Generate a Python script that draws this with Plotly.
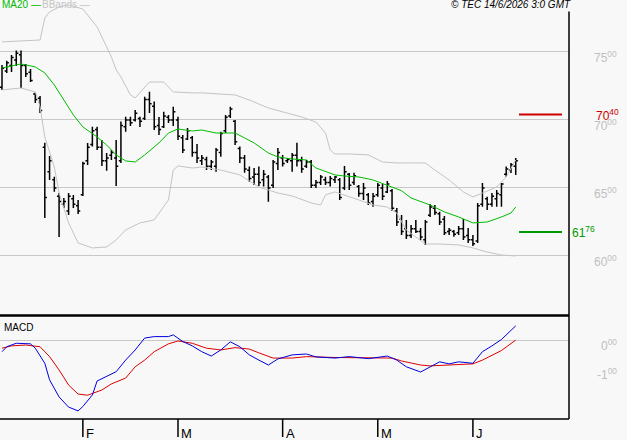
import pandas as pd
import plotly.graph_objects as go

# ---------------- data ----------------
holidays = ["2026-04-03", "2026-04-06", "2026-05-01"]
dates = pd.bdate_range("2026-01-08", "2026-06-12")
dates = dates[~dates.isin(pd.to_datetime(holidays))]
idx = list(range(len(dates)))

opens = [7240, 7360, 7400, 7440, 7480, 7400, 7350, 7190, 7160, 6800,
         6620, 6560, 6440, 6380, 6330, 6420, 6370, 6450, 6700, 6820,
         6930, 6800, 6700, 6740, 6720, 6700, 6950, 7000, 7000, 7010,
         7010, 7150, 7100, 6960, 6950, 7020, 7000, 7000, 6870, 6860,
         6870, 6760, 6700, 6710, 6660, 6660, 6760, 6920, 7030, 6990,
         6790, 6720, 6630, 6580, 6600, 6560, 6580, 6520, 6680, 6720,
         6700, 6700, 6740, 6700, 6660, 6690, 6520, 6540, 6560, 6540,
         6560, 6560, 6500, 6600, 6540, 6510, 6460, 6450, 6400, 6450,
         6500, 6470, 6480, 6330, 6270, 6200, 6150, 6200, 6180, 6120,
         6300, 6350, 6310, 6270, 6180, 6180, 6170, 6200, 6150, 6120,
         6110, 6380, 6420, 6380, 6420, 6450, 6600, 6630, 6660]
highs = [7404, 7436, 7478, 7510, 7510, 7412, 7375, 7201, 7176, 6833,
         6735, 6583, 6463, 6426, 6463, 6449, 6412, 6693, 6831, 6951,
         6951, 6853, 6757, 6779, 6853, 6988, 7024, 7024, 7074, 7024,
         7171, 7208, 7135, 7022, 7061, 7037, 7098, 7024, 6890, 6941,
         6882, 6824, 6743, 6730, 6706, 6794, 6914, 7037, 7098, 7000,
         6804, 6743, 6657, 6647, 6657, 6632, 6596, 6706, 6794, 6743,
         6721, 6757, 6833, 6730, 6706, 6706, 6559, 6596, 6583, 6588,
         6588, 6574, 6662, 6610, 6612, 6522, 6537, 6463, 6463, 6537,
         6530, 6551, 6493, 6353, 6301, 6265, 6228, 6265, 6206, 6265,
         6382, 6375, 6326, 6294, 6206, 6191, 6221, 6272, 6206, 6154,
         6390, 6537, 6436, 6463, 6485, 6537, 6657, 6684, 6721]
lows = [7221, 7346, 7353, 7397, 7235, 7316, 7279, 7125, 7051, 6279,
        6559, 6473, 6140, 6353, 6301, 6353, 6309, 6441, 6669, 6804,
        6779, 6662, 6627, 6706, 6515, 6684, 6914, 6956, 6988, 6949,
        7000, 7051, 6926, 6890, 6941, 6978, 6956, 6853, 6757, 6853,
        6730, 6684, 6669, 6632, 6632, 6620, 6730, 6904, 7015, 6816,
        6684, 6612, 6546, 6522, 6515, 6510, 6399, 6500, 6632, 6657,
        6684, 6620, 6657, 6612, 6647, 6500, 6500, 6522, 6522, 6510,
        6537, 6412, 6485, 6485, 6522, 6436, 6412, 6375, 6362, 6436,
        6412, 6463, 6331, 6221, 6154, 6125, 6132, 6169, 6118, 6081,
        6287, 6301, 6228, 6154, 6154, 6142, 6154, 6118, 6096, 6074,
        6096, 6362, 6338, 6362, 6362, 6362, 6583, 6610, 6596]
closes = [7380, 7420, 7460, 7490, 7400, 7340, 7290, 7150, 7070, 6430,
          6700, 6500, 6400, 6400, 6440, 6380, 6330, 6680, 6800, 6920,
          6800, 6700, 6720, 6760, 6660, 6960, 7000, 6980, 7050, 6990,
          7150, 7120, 6950, 6930, 7030, 7000, 7060, 6880, 6780, 6920,
          6760, 6720, 6720, 6660, 6690, 6780, 6900, 7020, 7080, 6840,
          6720, 6640, 6570, 6600, 6540, 6600, 6500, 6690, 6760, 6680,
          6710, 6740, 6700, 6640, 6690, 6520, 6540, 6580, 6540, 6570,
          6580, 6430, 6620, 6520, 6590, 6460, 6500, 6390, 6440, 6520,
          6440, 6530, 6350, 6250, 6180, 6150, 6200, 6180, 6140, 6250,
          6360, 6320, 6250, 6170, 6190, 6160, 6200, 6140, 6120, 6090,
          6370, 6500, 6380, 6440, 6460, 6530, 6640, 6670, 6700]

ma_idx = [0, 2, 4, 7, 9, 11, 13, 15, 17, 20, 22, 24, 26, 28, 30, 33, 35, 37, 40, 42,
          45, 49, 51, 53, 56, 58, 61, 64, 66, 70, 72, 75, 78, 81, 84, 86, 90, 93, 96,
          99, 102, 105, 107, 108]
ma_val = [7382, 7397, 7412, 7390, 7346, 7257, 7147, 7037, 6949, 6875, 6816, 6743, 6699,
          6691, 6743, 6831, 6904, 6934, 6919, 6926, 6904, 6904, 6868, 6831, 6757, 6728,
          6713, 6706, 6647, 6596, 6588, 6581, 6559, 6522, 6480, 6426, 6375, 6324, 6287,
          6243, 6250, 6287, 6316, 6360]

bb_up_idx = [0, 8, 9, 10, 12, 14, 17, 20, 23, 24, 25, 27, 28, 29, 31, 34, 36, 40, 42,
             49, 52, 56, 60, 63, 66, 68, 69, 70, 73, 77, 80, 83, 87, 89, 91, 94, 97, 99,
             101, 104, 106, 108]
bb_up_val = [7574, 7588, 7750, 7794, 7831, 7846, 7816, 7684, 7463, 7368, 7316, 7184,
             7162, 7199, 7279, 7279, 7206, 7199, 7199, 7184, 7147, 7088, 7051, 7022,
             6985, 6904, 6779, 6750, 6750, 6743, 6691, 6684, 6684, 6684, 6632, 6559,
             6471, 6434, 6463, 6507, 6581, 6706]

bb_lo_idx = [0, 4, 7, 8, 9, 11, 12, 14, 16, 19, 22, 24, 26, 29, 32, 35, 36, 37, 40,
             42, 46, 50, 54, 56, 58, 61, 65, 67, 68, 70, 72, 75, 78, 81, 83, 85, 89,
             92, 96, 99, 102, 105, 108]
bb_lo_val = [7221, 7235, 7206, 7096, 6875, 6654, 6463, 6243, 6096, 6059, 6066, 6118,
             6191, 6243, 6265, 6412, 6632, 6662, 6647, 6654, 6632, 6596, 6507, 6485,
             6463, 6441, 6390, 6375, 6449, 6471, 6449, 6412, 6375, 6360, 6316, 6191,
             6088, 6088, 6081, 6059, 6029, 6007, 6000]

macd_idx = [0, 1, 3, 6, 7, 9, 10, 12, 14, 16, 17, 19, 20, 22, 24, 26, 28, 30, 32, 35,
            36, 38, 40, 42, 44, 46, 48, 50, 52, 54, 56, 58, 61, 64, 66, 70, 73, 77, 81,
            83, 85, 88, 90, 92, 94, 96, 99, 101, 103, 105, 108]
macd_val = [-37, -20, -8, -10, -25, -77, -134, -193, -228, -241, -226, -186, -138, -123,
            -106, -66, -31, 10, 15, 15, 21, -2, -17, -37, -52, -31, -3, -20, -48, -66,
            -83, -62, -48, -45, -55, -59, -54, -61, -52, -66, -89, -107, -90, -72, -79,
            -72, -77, -37, -17, 5, 52]

signal_idx = [0, 2, 5, 8, 10, 12, 14, 16, 18, 21, 23, 26, 28, 30, 32, 35, 37, 40, 43,
              46, 49, 52, 54, 57, 61, 64, 70, 77, 82, 84, 88, 90, 94, 99, 101, 105, 108]
signal_val = [-25, -17, -14, -20, -54, -100, -152, -183, -187, -169, -148, -128, -89,
              -66, -37, -10, 0, -8, -25, -31, -23, -28, -41, -59, -59, -54, -57, -57,
              -59, -69, -83, -86, -83, -79, -66, -33, 3]

resistance = 7040
support = 6176
price_ticks = [6000, 6500, 7000, 7500]
macd_ticks = [0, -100]

# ---------------- geometry helpers ----------------
W, H = 627, 440
px_right = 569
xr = 569 / W
price_bot = 1 - 315 / H
macd_top = 1 - 316 / H
macd_bot = 1 - 419 / H

BG = "#f8f8f8"
GRID = "#c8c8c8"
FONT = "Arial, Liberation Sans, sans-serif"

fig = go.Figure()

fig.add_trace(go.Scatter(x=bb_up_idx, y=bb_up_val, mode="lines",
                         line=dict(color="#c4c4c4", width=1), hoverinfo="skip"))
fig.add_trace(go.Scatter(x=bb_lo_idx, y=bb_lo_val, mode="lines",
                         line=dict(color="#c4c4c4", width=1), hoverinfo="skip"))
fig.add_trace(go.Scatter(x=ma_idx, y=ma_val, mode="lines",
                         line=dict(color="#00bb00", width=1), hoverinfo="skip"))
fig.add_trace(go.Ohlc(x=idx, open=opens, high=highs, low=lows, close=closes,
                      increasing=dict(line=dict(color="black", width=1.5)),
                      decreasing=dict(line=dict(color="black", width=1.5)),
                      tickwidth=0.45))

fig.add_trace(go.Scatter(x=signal_idx, y=signal_val, mode="lines", xaxis="x2", yaxis="y2",
                         line=dict(color="#dd0000", width=1), hoverinfo="skip"))
fig.add_trace(go.Scatter(x=macd_idx, y=macd_val, mode="lines", xaxis="x2", yaxis="y2",
                         line=dict(color="#0000dd", width=1), hoverinfo="skip"))

x_range = [-0.42, 119.2]
fig.update_layout(
    width=W, height=H,
    margin=dict(l=0, r=0, t=0, b=0),
    paper_bgcolor=BG, plot_bgcolor=BG,
    showlegend=False,
    font=dict(family=FONT),
    xaxis=dict(domain=[0, xr], range=x_range, showgrid=False, zeroline=False,
               showticklabels=False, rangeslider=dict(visible=False), anchor="y"),
    yaxis=dict(domain=[price_bot, 1], range=[5566, 7882], tickvals=price_ticks,
               showgrid=True, gridcolor=GRID, gridwidth=1, zeroline=False,
               showticklabels=False, anchor="x"),
    xaxis2=dict(domain=[0, xr], range=x_range, showgrid=False, zeroline=False,
                showticklabels=False, anchor="y2", matches="x"),
    yaxis2=dict(domain=[macd_bot, macd_top], range=[-269, 86], tickvals=[0],
                showgrid=True, gridcolor=GRID, gridwidth=1, zeroline=False,
                showticklabels=False, anchor="x2"),
)

shapes = []
# frame
shapes.append(dict(type="line", xref="paper", yref="paper", x0=xr, x1=xr, y0=macd_bot, y1=1,
                   line=dict(color="black", width=1.5)))
shapes.append(dict(type="line", xref="paper", yref="paper", x0=0, x1=xr,
                   y0=1 - 315.5 / H, y1=1 - 315.5 / H, line=dict(color="black", width=2.5)))
shapes.append(dict(type="line", xref="paper", yref="paper", x0=0, x1=xr,
                   y0=macd_bot, y1=macd_bot, line=dict(color="black", width=1.5)))
# support / resistance
shapes.append(dict(type="line", xref="paper", yref="y", x0=519 / W, x1=562 / W,
                   y0=resistance, y1=resistance, line=dict(color="#cc0000", width=2)))
shapes.append(dict(type="line", xref="paper", yref="y", x0=519 / W, x1=562 / W,
                   y0=support, y1=support, line=dict(color="#009900", width=2)))

annotations = []
# month ticks
months = pd.Series(dates.month)
for i in range(1, len(dates)):
    if months[i] != months[i - 1]:
        shapes.append(dict(type="line", xref="x2", yref="paper", x0=i, x1=i,
                           y0=macd_bot, y1=1 - 437 / H, line=dict(color="black", width=1.5)))
        annotations.append(dict(x=i, xref="x2", y=1 - 433 / H, yref="paper",
                                text=dates[i].strftime("%B")[0], showarrow=False,
                                xanchor="left", yanchor="middle", xshift=1,
                                font=dict(size=13, color="black", family=FONT)))

# price tick labels
for v in price_ticks:
    s = str(v)
    annotations.append(dict(x=619 / W, xref="paper", y=v, yref="y", yshift=-5,
                            text=f"{s[:2]}<sup>{s[2:]}</sup>", showarrow=False,
                            xanchor="right", yanchor="middle",
                            font=dict(size=12, color="#c0c0c0", family=FONT)))
for v in macd_ticks:
    s = "0" if v == 0 else str(v // 100)
    annotations.append(dict(x=619 / W, xref="paper", y=v, yref="y2", yshift=-4,
                            text=f"{s}<sup>00</sup>", showarrow=False,
                            xanchor="right", yanchor="middle",
                            font=dict(size=12, color="#c0c0c0", family=FONT)))
rs = str(resistance)
annotations.append(dict(x=594 / W, xref="paper", y=resistance, yref="y",
                        text=f"{rs[:2]}<sup>{rs[2:]}</sup>", showarrow=False,
                        xanchor="left", yanchor="middle",
                        font=dict(size=12, color="#cc0000", family=FONT)))
ss = str(support)
annotations.append(dict(x=570 / W, xref="paper", y=support, yref="y",
                        text=f"{ss[:2]}<sup>{ss[2:]}</sup>", showarrow=False,
                        xanchor="left", yanchor="middle",
                        font=dict(size=12, color="#009900", family=FONT)))

# legend / titles
annotations.append(dict(x=0, xref="paper", y=1 - 5 / H, yref="paper", text="MA20 —",
                        showarrow=False, xanchor="left", yanchor="middle",
                        font=dict(size=10, color="#00bb00", family=FONT)))
annotations.append(dict(x=40 / W, xref="paper", y=1 - 5 / H, yref="paper", text="BBands —",
                        showarrow=False, xanchor="left", yanchor="middle",
                        font=dict(size=10, color="#c4c4c4", family=FONT)))
annotations.append(dict(x=573 / W, xref="paper", y=1 - 5 / H, yref="paper",
                        text="<i>© TEC 14/6/2026 3:0 GMT</i>", showarrow=False,
                        xanchor="right", yanchor="middle", bgcolor=BG,
                        font=dict(size=10, color="black", family=FONT)))
annotations.append(dict(x=2 / W, xref="paper", y=1 - 327 / H, yref="paper", text="MACD",
                        showarrow=False, xanchor="left", yanchor="middle",
                        font=dict(size=10, color="black", family=FONT)))

fig.update_layout(shapes=shapes, annotations=annotations)
fig.write_html("out.html")
